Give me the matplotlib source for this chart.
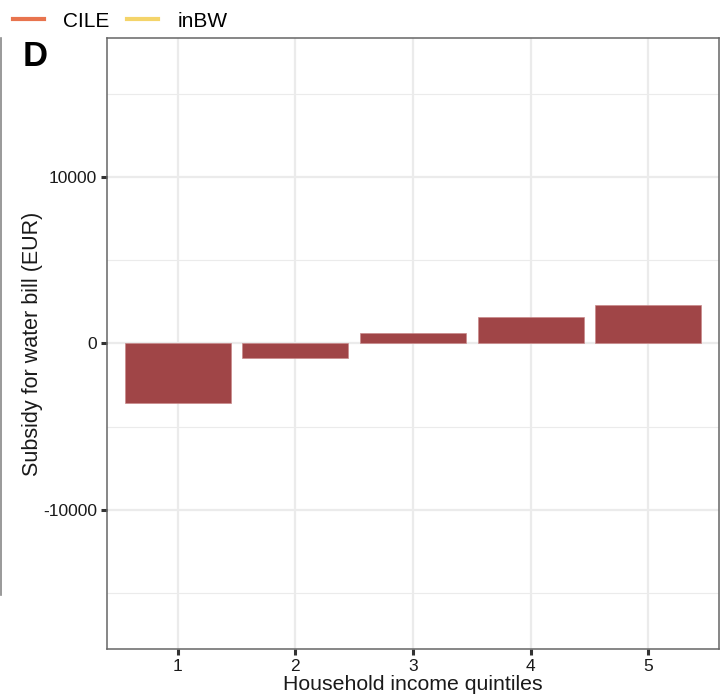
import matplotlib.pyplot as plt
from matplotlib.lines import Line2D

plt.rcParams['font.family'] = ['Liberation Sans', 'DejaVu Sans']

# data
quintiles = [1, 2, 3, 4, 5]
subsidy = [-3600, -850, 650, 1600, 2300]
y_major = [-10000, 0, 10000]
y_minor = [-15000, -5000, 5000, 15000]
legend_names = ['CILE', 'inBW']
legend_colors = ['#E8744E', '#F4D46A']

fig = plt.figure(figsize=(7.28, 7.0), dpi=100)
ax = fig.add_axes([0.147, 0.0729, 0.8406, 0.8728])

ax.bar(quintiles, subsidy, width=0.9, color='#A04547', edgecolor='#C98A8B',
       linewidth=0.5, zorder=3)

ax.set_xlim(0.4, 5.6)
ax.set_ylim(-18400, 18400)
ax.set_xticks(quintiles)
ax.set_yticks(y_major)
ax.set_yticks(y_minor, minor=True)
ax.set_xticklabels([str(q) for q in quintiles])
ax.set_yticklabels(['-10000', '0', '10000'])

ax.grid(which='major', color='#EBEBEB', linewidth=1.6, zorder=0)
ax.grid(which='minor', axis='y', color='#EBEBEB', linewidth=0.8, zorder=0)
ax.set_axisbelow(True)
ax.tick_params(which='major', length=4, width=2.2, color='#333333',
               labelsize=12.5, labelcolor='#1a1a1a', pad=3)
ax.tick_params(which='minor', length=0)
for s in ax.spines.values():
    s.set_color('#666666')
    s.set_linewidth(1.1)

ax.set_xlabel('Household income quintiles', fontsize=15.3, labelpad=1, color='#1a1a1a')
ax.set_ylabel('Subsidy for water bill (EUR)', fontsize=15.5, labelpad=0, color='#1a1a1a')

# panel letter
fig.text(0.031, 0.905, 'D', fontsize=25, fontweight='bold', color='black')

# legend on top
handles = [Line2D([0], [0], color=c, linewidth=3) for c in legend_colors]
fig.legend(handles, legend_names, loc='upper left', bbox_to_anchor=(-0.002, 1.004),
           ncol=2, frameon=False, fontsize=15, handlelength=1.5,
           columnspacing=0.85, handletextpad=0.9, borderaxespad=0.3)

# stray line at the left edge
fig.add_artist(Line2D([0.002, 0.002], [1 - 38 / 700, 1 - 595 / 700],
                      color='#888888', linewidth=1.2))

fig.savefig('out.png', dpi=100)
